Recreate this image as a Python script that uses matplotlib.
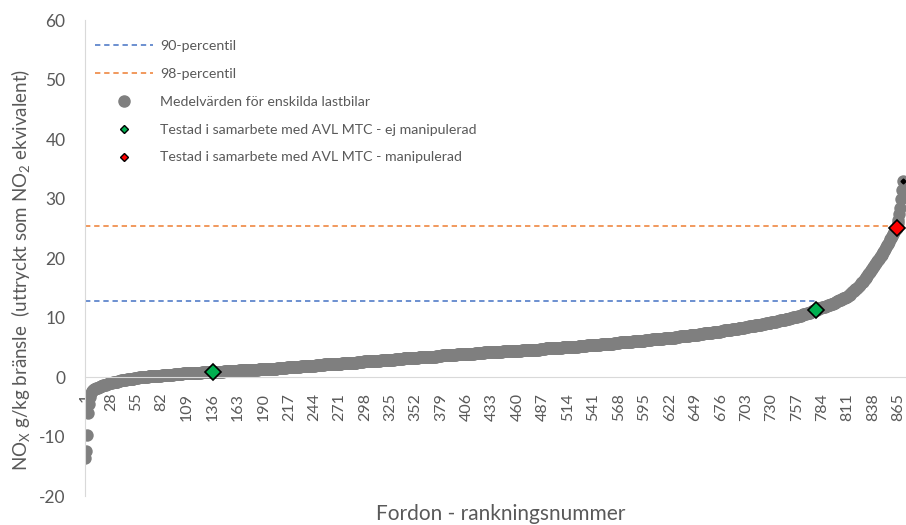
import matplotlib
matplotlib.use('Agg')
import matplotlib.pyplot as plt
from matplotlib.lines import Line2D

# Medelvärden för enskilda lastbilar, sorterade
nox_values = [
    -13.6, -12.4, -9.6, -6.0, -4.5, -3.3, -2.6, -2.3, -2.1, -2.0,
    -1.9, -1.8, -1.8, -1.7, -1.6, -1.6, -1.5, -1.4, -1.4, -1.3,
    -1.3, -1.2, -1.2, -1.1, -1.1, -1.0, -1.0, -0.9, -0.9, -0.8,
    -0.8, -0.8, -0.7, -0.7, -0.7, -0.6, -0.6, -0.6, -0.5, -0.5,
    -0.5, -0.4, -0.4, -0.4, -0.3, -0.3, -0.3, -0.3, -0.2, -0.2,
    -0.2, -0.2, -0.1, -0.1, -0.1, -0.1, -0.1, 0.0, 0.0, 0.0,
    0.0, 0.0, 0.1, 0.1, 0.1, 0.1, 0.1, 0.2, 0.2, 0.2,
    0.2, 0.2, 0.2, 0.2, 0.3, 0.3, 0.3, 0.3, 0.3, 0.3,
    0.3, 0.4, 0.4, 0.4, 0.4, 0.4, 0.4, 0.5, 0.5, 0.5,
    0.5, 0.5, 0.5, 0.5, 0.6, 0.6, 0.6, 0.6, 0.6, 0.6,
    0.6, 0.6, 0.6, 0.6, 0.7, 0.7, 0.7, 0.7, 0.7, 0.7,
    0.7, 0.7, 0.7, 0.7, 0.8, 0.8, 0.8, 0.8, 0.8, 0.8,
    0.8, 0.8, 0.8, 0.8, 0.9, 0.9, 0.9, 0.9, 0.9, 0.9,
    0.9, 0.9, 0.9, 0.9, 1.0, 1.0, 1.0, 1.0, 1.0, 1.0,
    1.0, 1.0, 1.0, 1.0, 1.0, 1.0, 1.0, 1.1, 1.1, 1.1,
    1.1, 1.1, 1.1, 1.1, 1.1, 1.1, 1.1, 1.1, 1.1, 1.1,
    1.1, 1.1, 1.1, 1.2, 1.2, 1.2, 1.2, 1.2, 1.2, 1.2,
    1.2, 1.2, 1.2, 1.2, 1.3, 1.3, 1.3, 1.3, 1.3, 1.3,
    1.3, 1.3, 1.3, 1.3, 1.4, 1.4, 1.4, 1.4, 1.4, 1.4,
    1.4, 1.4, 1.4, 1.4, 1.5, 1.5, 1.5, 1.5, 1.5, 1.5,
    1.5, 1.5, 1.5, 1.5, 1.6, 1.6, 1.6, 1.6, 1.6, 1.6,
    1.6, 1.6, 1.6, 1.6, 1.7, 1.7, 1.7, 1.7, 1.7, 1.7,
    1.7, 1.7, 1.7, 1.8, 1.8, 1.8, 1.8, 1.8, 1.8, 1.9,
    1.9, 1.9, 1.9, 1.9, 1.9, 1.9, 1.9, 1.9, 2.0, 2.0,
    2.0, 2.0, 2.0, 2.0, 2.0, 2.1, 2.1, 2.1, 2.1, 2.1,
    2.1, 2.1, 2.1, 2.1, 2.2, 2.2, 2.2, 2.2, 2.2, 2.2,
    2.2, 2.2, 2.2, 2.2, 2.3, 2.3, 2.3, 2.3, 2.3, 2.3,
    2.3, 2.3, 2.3, 2.4, 2.4, 2.4, 2.4, 2.4, 2.4, 2.4,
    2.4, 2.5, 2.5, 2.5, 2.5, 2.5, 2.5, 2.5, 2.5, 2.6,
    2.6, 2.6, 2.6, 2.6, 2.6, 2.6, 2.7, 2.7, 2.7, 2.7,
    2.7, 2.7, 2.7, 2.7, 2.8, 2.8, 2.8, 2.8, 2.8, 2.8,
    2.8, 2.8, 2.8, 2.8, 2.9, 2.9, 2.9, 2.9, 2.9, 2.9,
    2.9, 2.9, 2.9, 3.0, 3.0, 3.0, 3.0, 3.0, 3.0, 3.1,
    3.1, 3.1, 3.1, 3.1, 3.1, 3.1, 3.1, 3.1, 3.2, 3.2,
    3.2, 3.2, 3.2, 3.2, 3.2, 3.3, 3.3, 3.3, 3.3, 3.3,
    3.3, 3.3, 3.3, 3.3, 3.4, 3.4, 3.4, 3.4, 3.4, 3.4,
    3.4, 3.4, 3.4, 3.4, 3.5, 3.5, 3.5, 3.5, 3.5, 3.5,
    3.5, 3.5, 3.5, 3.6, 3.6, 3.6, 3.6, 3.6, 3.6, 3.7,
    3.7, 3.7, 3.7, 3.7, 3.7, 3.7, 3.7, 3.7, 3.8, 3.8,
    3.8, 3.8, 3.8, 3.8, 3.8, 3.9, 3.9, 3.9, 3.9, 3.9,
    3.9, 3.9, 3.9, 3.9, 4.0, 4.0, 4.0, 4.0, 4.0, 4.0,
    4.0, 4.0, 4.0, 4.0, 4.1, 4.1, 4.1, 4.1, 4.1, 4.1,
    4.1, 4.1, 4.1, 4.1, 4.2, 4.2, 4.2, 4.2, 4.2, 4.2,
    4.2, 4.2, 4.2, 4.2, 4.3, 4.3, 4.3, 4.3, 4.3, 4.3,
    4.3, 4.3, 4.3, 4.3, 4.4, 4.4, 4.4, 4.4, 4.4, 4.4,
    4.4, 4.4, 4.4, 4.4, 4.5, 4.5, 4.5, 4.5, 4.5, 4.5,
    4.5, 4.5, 4.5, 4.5, 4.6, 4.6, 4.6, 4.6, 4.6, 4.6,
    4.6, 4.6, 4.6, 4.6, 4.7, 4.7, 4.7, 4.7, 4.7, 4.7,
    4.7, 4.7, 4.7, 4.8, 4.8, 4.8, 4.8, 4.8, 4.8, 4.9,
    4.9, 4.9, 4.9, 4.9, 4.9, 4.9, 4.9, 4.9, 5.0, 5.0,
    5.0, 5.0, 5.0, 5.0, 5.0, 5.0, 5.0, 5.1, 5.1, 5.1,
    5.1, 5.1, 5.1, 5.1, 5.1, 5.2, 5.2, 5.2, 5.2, 5.2,
    5.2, 5.2, 5.2, 5.2, 5.3, 5.3, 5.3, 5.3, 5.3, 5.3,
    5.3, 5.3, 5.3, 5.4, 5.4, 5.4, 5.4, 5.4, 5.4, 5.5,
    5.5, 5.5, 5.5, 5.5, 5.5, 5.5, 5.5, 5.5, 5.6, 5.6,
    5.6, 5.6, 5.6, 5.6, 5.6, 5.7, 5.7, 5.7, 5.7, 5.7,
    5.7, 5.7, 5.8, 5.8, 5.8, 5.8, 5.8, 5.8, 5.9, 5.9,
    5.9, 5.9, 5.9, 5.9, 5.9, 6.0, 6.0, 6.0, 6.0, 6.0,
    6.0, 6.0, 6.1, 6.1, 6.1, 6.1, 6.1, 6.1, 6.2, 6.2,
    6.2, 6.2, 6.2, 6.2, 6.2, 6.3, 6.3, 6.3, 6.3, 6.3,
    6.3, 6.3, 6.4, 6.4, 6.4, 6.4, 6.4, 6.4, 6.5, 6.5,
    6.5, 6.5, 6.5, 6.5, 6.5, 6.6, 6.6, 6.6, 6.6, 6.6,
    6.6, 6.6, 6.7, 6.7, 6.7, 6.7, 6.7, 6.8, 6.8, 6.8,
    6.8, 6.8, 6.9, 6.9, 6.9, 6.9, 6.9, 7.0, 7.0, 7.0,
    7.0, 7.0, 7.1, 7.1, 7.1, 7.1, 7.1, 7.2, 7.2, 7.2,
    7.2, 7.2, 7.3, 7.3, 7.3, 7.3, 7.3, 7.4, 7.4, 7.4,
    7.4, 7.4, 7.5, 7.5, 7.5, 7.5, 7.5, 7.6, 7.6, 7.6,
    7.6, 7.7, 7.7, 7.7, 7.7, 7.8, 7.8, 7.8, 7.8, 7.9,
    7.9, 7.9, 7.9, 8.0, 8.0, 8.0, 8.0, 8.1, 8.1, 8.1,
    8.1, 8.2, 8.2, 8.2, 8.3, 8.3, 8.3, 8.4, 8.4, 8.4,
    8.4, 8.5, 8.5, 8.5, 8.5, 8.6, 8.6, 8.6, 8.6, 8.7,
    8.7, 8.7, 8.8, 8.8, 8.8, 8.8, 8.9, 8.9, 8.9, 9.0,
    9.0, 9.0, 9.0, 9.1, 9.1, 9.1, 9.2, 9.2, 9.2, 9.3,
    9.3, 9.3, 9.4, 9.4, 9.4, 9.5, 9.5, 9.5, 9.6, 9.6,
    9.6, 9.7, 9.7, 9.7, 9.8, 9.8, 9.8, 9.9, 9.9, 10.0,
    10.0, 10.0, 10.1, 10.1, 10.2, 10.2, 10.2, 10.3, 10.3, 10.4,
    10.4, 10.5, 10.5, 10.6, 10.6, 10.7, 10.7, 10.8, 10.8, 10.9,
    10.9, 11.0, 11.1, 11.2, 11.3, 11.3, 11.4, 11.4, 11.5, 11.6,
    11.6, 11.7, 11.7, 11.8, 11.8, 11.9, 11.9, 12.0, 12.0, 12.1,
    12.2, 12.2, 12.3, 12.4, 12.4, 12.5, 12.6, 12.6, 12.7, 12.8,
    12.9, 13.0, 13.0, 13.1, 13.2, 13.3, 13.4, 13.4, 13.5, 13.6,
    13.7, 13.8, 13.9, 14.1, 14.2, 14.3, 14.5, 14.6, 14.8, 14.9,
    15.1, 15.2, 15.4, 15.6, 15.8, 16.0, 16.1, 16.3, 16.5, 16.7,
    16.9, 17.1, 17.4, 17.6, 17.8, 18.1, 18.3, 18.5, 18.8, 19.0,
    19.2, 19.5, 19.7, 19.9, 20.2, 20.4, 20.6, 20.8, 21.1, 21.3,
    21.6, 21.9, 22.2, 22.5, 22.8, 23.2, 23.5, 23.8, 24.1, 24.5,
    24.8, 25.0, 25.2, 26.0, 26.5, 27.5, 28.5, 30.0, 31.5, 33.0,
]
ranks = list(range(1, len(nox_values) + 1))

# Testade fordon
ej_manip_ranks = [136, 777]
ej_manip_vals = [1.0, 11.4]
manip_ranks = [863]
manip_vals = [25.2]

# Percentiler
p90 = 12.8
p90_end = 777
p98 = 25.4
p98_end = 863

tick_ranks = list(range(1, 866, 27))
y_ticks = [-20, -10, 0, 10, 20, 30, 40, 50, 60]

plt.rcParams['font.family'] = ['Lato', 'DejaVu Sans']
plt.rcParams['axes.unicode_minus'] = False
textcol = '#595959'

fig = plt.figure(figsize=(9.06, 5.25), dpi=100)
ax = fig.add_axes([85 / 906, 0.0543, 1 - 85 / 906, 0.9067])

ax.hlines(p90, 0.5, p90_end, colors='#4472C4', linestyles=(0, (3.5, 2.5)), lw=1.1, zorder=1)
ax.hlines(p98, 0.5, p98_end, colors='#ED7D31', linestyles=(0, (3.5, 2.5)), lw=1.1, zorder=1)
ax.scatter(ranks, nox_values, s=80, color='#7f7f7f', lw=0, zorder=2)
ax.plot(ej_manip_ranks, ej_manip_vals, ls='none', marker='D', ms=7.8, mfc='#00B050', mec='black', mew=1.2, zorder=3)
ax.plot(manip_ranks, manip_vals, ls='none', marker='D', ms=7.8, mfc='#FF0000', mec='black', mew=1.2, zorder=3)
ax.plot([ranks[-1]], [nox_values[-1]], ls='none', marker='D', ms=2.5, color='black', zorder=4)

ax.set_xlim(0.5, 873)
ax.set_ylim(-20, 60)
ax.set_yticks(y_ticks)
ax.set_xticks(tick_ranks)
ax.set_xticklabels([str(t) for t in tick_ranks])

for s in ['top', 'right']:
    ax.spines[s].set_visible(False)
ax.spines['left'].set_color('#D9D9D9')
ax.spines['bottom'].set_color('#D9D9D9')
ax.spines['bottom'].set_position(('data', 0))
ax.tick_params(axis='both', length=0, colors=textcol)
ax.tick_params(axis='y', labelsize=12.5, pad=14)
ax.tick_params(axis='x', labelsize=11.5, pad=11, labelrotation=90)

fig.text(0.0238, 1 - 270 / 525, 'NO$_\\mathregular{X}$ g/kg bränsle  (uttryckt som NO$_\\mathregular{2}$ ekvivalent)',
         rotation=90, ha='center', va='center', color=textcol, fontsize=13.5)
fig.text(501 / 906, 1 - 514 / 525, 'Fordon - rankningsnummer', ha='center', va='center',
         color=textcol, fontsize=15)

handles = [
    Line2D([], [], color='#4472C4', ls=(0, (3.5, 2.5)), lw=1.1),
    Line2D([], [], color='#ED7D31', ls=(0, (3.5, 2.5)), lw=1.1),
    Line2D([], [], ls='none', marker='o', ms=8, color='#7f7f7f'),
    Line2D([], [], ls='none', marker='D', ms=3.8, mfc='#00B050', mec='black', mew=1),
    Line2D([], [], ls='none', marker='D', ms=3.8, mfc='#FF0000', mec='black', mew=1),
]
labels = ['90-percentil', '98-percentil', 'Medelvärden för enskilda lastbilar',
          'Testad i samarbete med AVL MTC - ej manipulerad',
          'Testad i samarbete med AVL MTC - manipulerad']
leg = fig.legend(handles, labels, loc='upper left', bbox_to_anchor=(95 / 906, 1 - 40 / 525),
                 frameon=False, fontsize=10.2, handlelength=4.1, handletextpad=0.5,
                 labelspacing=1.12, borderpad=0, borderaxespad=0, labelcolor=textcol)

fig.savefig('out.png', dpi=100)
